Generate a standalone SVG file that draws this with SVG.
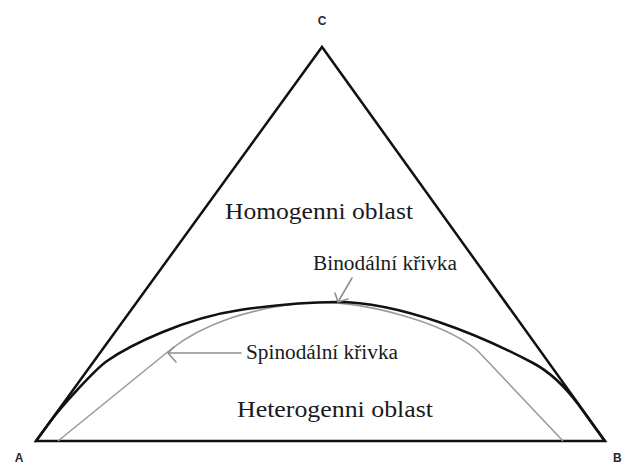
<svg xmlns="http://www.w3.org/2000/svg" width="626" height="465" viewBox="0 0 626 465">
<style>
.frame{fill:none;stroke:#111;stroke-width:2.5;stroke-linejoin:miter}
.bin{fill:none;stroke:#111;stroke-width:2.6;stroke-linecap:round}
.spin{fill:none;stroke:#9a9a9a;stroke-width:1.6}
.arr{fill:none;stroke:#8f8f8f;stroke-width:1.6;stroke-linecap:round}
.big{font-family:"Liberation Serif","Times New Roman",serif;font-size:24px;fill:#1a1a1a}
.small{font-family:"Liberation Serif","Times New Roman",serif;font-size:20px;fill:#1a1a1a}
.corner{font-family:"Liberation Sans",Arial,sans-serif;font-size:12px;font-weight:bold;fill:#2a2a2a}
</style>
<rect width="626" height="465" fill="#fff"/>
<g id="triangle">
<path class="frame" d="M36,441 L322,47 L605,441 Z"/>
</g>
<g id="connectors">
<path id="spinodal-curve" class="spin" d="M58,441 L170,350 C200,326 250,306 315,302.5 C360,301 440,320 477,350 L563,441"/>
<path id="binodal-curve" class="bin" d="M36,441 L50,422 C61.8,405.8 95.5,369 107,361 C130,345 185,318 240,310 C270,305.6 305,302 337,302 C400,302 480,335 533,363 C553,373.6 569,392 578,404 L604,440"/>
<path id="spinodal-arrow" class="arr" d="M241,353 L168,353 M168,353 L174,347 M168,353 L176,362"/>
<path id="binodal-arrow" class="arr" d="M352,278 L338,302 M338,302 L335,293 M338,302 L348,299"/>
</g>
<g id="label-C"><text class="corner" x="322" y="25" text-anchor="middle">C</text></g>
<g id="label-A"><text class="corner" x="19" y="462" text-anchor="middle">A</text></g>
<g id="label-B"><text class="corner" x="613" y="462">B</text></g>
<g id="homogenni"><text class="big" x="225" y="219" textLength="188" lengthAdjust="spacingAndGlyphs">Homogenni oblast</text></g>
<g id="heterogenni"><text class="big" x="237" y="417" font-size="25" textLength="196" lengthAdjust="spacingAndGlyphs">Heterogenni oblast</text></g>
<g id="binodalni"><text class="small" x="313" y="270" textLength="144" lengthAdjust="spacingAndGlyphs">Binodální křivka</text></g>
<g id="spinodalni"><text class="small" x="246" y="359" textLength="152" lengthAdjust="spacingAndGlyphs">Spinodální křivka</text></g>
</svg>
